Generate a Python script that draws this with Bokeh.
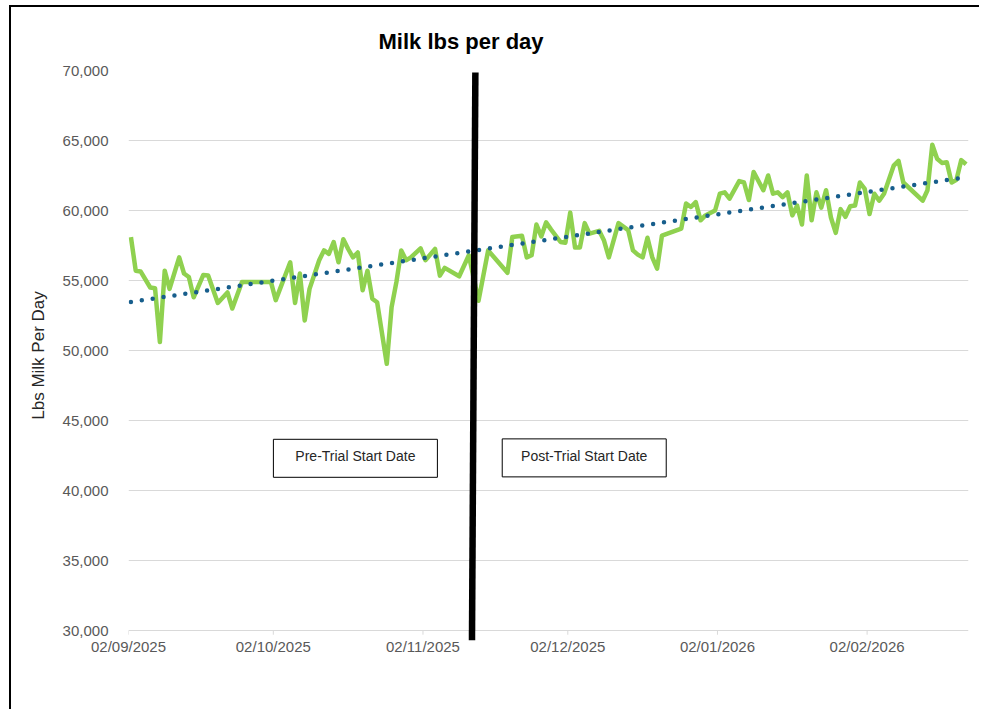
import numpy as np
import pandas as pd
from bokeh.plotting import figure
from bokeh.models import Range1d, DatetimeTickFormatter, FixedTicker, NumeralTickFormatter, ColumnDataSource
from bokeh.core.properties import value
from bokeh.embed import file_html
from bokeh.resources import INLINE

# ---------------- data ----------------
series_start = "2025-09-02"
axis_end = "2026-02-23"
day_number = [0, 1, 2, 4, 5, 6, 7, 8, 10, 11, 12, 13, 15, 16, 18, 20, 21, 23, 29, 30,
              33, 34, 35, 36, 37, 39, 40, 41, 42, 43, 44, 45, 46, 47, 48, 49, 50, 51, 53, 54,
              55, 56, 57, 58, 60, 61, 63, 64, 65, 68, 70, 72, 74, 78, 79, 81, 82, 83, 84, 85,
              86, 87, 89, 90, 91, 92, 93, 94, 95, 97, 98, 99, 101, 102, 103, 104, 105, 106, 107, 108,
              109, 110, 114, 115, 116, 117, 118, 119, 121, 122, 123, 124, 126, 127, 128, 129, 131, 132, 133, 134,
              135, 136, 137, 138, 139, 140, 141, 142, 143, 144, 145, 146, 147, 148, 149, 150, 151, 152, 153, 154,
              155, 156, 158, 159, 160, 164, 165, 166, 167, 168, 169, 170, 171, 172, 173]
milk_lbs = [58100, 55700, 55650, 54500, 54450, 50600, 55700, 54400, 56650, 55500, 55250, 53800, 55400, 55350, 53400, 54150, 53000, 54900, 54900, 53600,
            56300, 53400, 55500, 52150, 54400, 56450, 57150, 56900, 57750, 56300, 57950, 57250, 56650, 57000, 54300, 55700, 53700, 53450, 49050, 53100,
            54900, 57150, 56450, 56650, 57300, 56450, 57250, 55350, 55900, 55300, 56800, 53550, 57150, 55550, 58100, 58200, 56650, 56800, 59000, 58150,
            59150, 58650, 57750, 57700, 59850, 57350, 57350, 59100, 58350, 58550, 57850, 56650, 59100, 58850, 58600, 57150, 56850, 56650, 58050, 56650,
            55850, 58200, 58700, 60500, 60250, 60600, 59300, 59650, 60000, 61200, 61300, 60850, 62100, 62000, 60750, 62750, 61450, 62500, 61200, 61300,
            60950, 61300, 59650, 60350, 59000, 62500, 59300, 61300, 60200, 61450, 59500, 58400, 60100, 59550, 60300, 60350, 62000, 61550, 59750, 61200,
            60700, 61200, 63200, 63550, 62000, 60700, 61450, 64700, 63700, 63400, 63450, 62000, 62200, 63600, 63300]
tick_dates = ["2025-09-02", "2025-10-02", "2025-11-02", "2025-12-02", "2026-01-02", "2026-02-02"]
y_ticks = [30000, 35000, 40000, 45000, 50000, 55000, 60000, 65000, 70000]
trial_start_day = 71.5
title_text = "Milk lbs per day"
y_title = "Lbs Milk Per Day"
box_texts = ["Pre-Trial Start Date", "Post-Trial Start Date"]

# ---------------- derived ----------------
start = pd.Timestamp(series_start)
half_day = pd.Timedelta(hours=12)
dates = start + pd.to_timedelta(day_number, unit="D") + half_day   # points centred in their day
src = ColumnDataSource(dict(date=dates, milk=milk_lbs))

coef = np.polyfit(np.array(day_number, float), np.array(milk_lbs, float), 1)
trend_days = np.array([day_number[0], day_number[-1]], float)
trend_vals = np.polyval(coef, trend_days)
trend_dates = start + pd.to_timedelta(trend_days, unit="D") + half_day

FONT = "Liberation Sans"
Y_BOTTOM = 29286   # frame runs a little below the 30,000 axis so the trial bar can overhang it

p = figure(width=970, height=704, x_axis_type="datetime",
           x_range=Range1d(start, pd.Timestamp(axis_end)),
           y_range=Range1d(Y_BOTTOM, 70000),
           output_backend="svg", toolbar_location=None,
           min_border_left=117, min_border_right=13, min_border_top=63, min_border_bottom=71)
p.styles = {"border-top": "2px solid black", "border-left": "2px solid black",
            "margin-left": "9px", "margin-top": "5px"}
p.outline_line_color = None
p.background_fill_color = "white"
p.border_fill_color = "white"

# title
p.title.text = title_text
p.title.align = "left"
p.title.offset = 250
p.title.standoff = 34
p.title.text_font = FONT
p.title.text_font_size = "22px"
p.title.text_font_style = "bold"
p.title.text_color = "black"

# grid
p.xgrid.grid_line_color = None
p.ygrid.grid_line_color = "#D9D9D9"
p.ygrid.grid_line_width = 1

# y axis
p.yaxis.ticker = FixedTicker(ticks=y_ticks)
p.yaxis.formatter = NumeralTickFormatter(format="0,0")
p.yaxis.axis_line_color = None
p.yaxis.major_tick_line_color = None
p.yaxis.minor_tick_line_color = None
p.yaxis.major_tick_out = 0
p.yaxis.major_tick_in = 0
p.yaxis.major_label_standoff = 20
p.yaxis.major_label_text_font = FONT
p.yaxis.major_label_text_font_size = "15px"
p.yaxis.major_label_text_color = "#595959"
p.yaxis.axis_label = y_title
p.yaxis.axis_label_text_font = FONT
p.yaxis.axis_label_text_font_size = "17px"
p.yaxis.axis_label_text_font_style = "normal"
p.yaxis.axis_label_text_color = "#262626"
p.yaxis.axis_label_standoff = 12

# x axis (its visible line is the 30,000 gridline)
tick_ms = [pd.Timestamp(d).value // 10**6 for d in tick_dates]
p.xaxis.ticker = FixedTicker(ticks=tick_ms)
fmt = "%d/%m/%Y"
p.xaxis.formatter = DatetimeTickFormatter(days=fmt, months=fmt, years=fmt, hours=fmt,
                                          minutes=fmt, seconds=fmt, milliseconds=fmt, microseconds=fmt)
p.xaxis.axis_line_color = None
p.xaxis.major_tick_line_color = None
p.xaxis.minor_tick_line_color = None
p.xaxis.major_tick_out = 0
p.xaxis.major_tick_in = 0
p.xaxis.major_label_standoff = -3
p.xaxis.major_label_text_font = FONT
p.xaxis.major_label_text_font_size = "15px"
p.xaxis.major_label_text_color = "#595959"

# small tick marks hanging from the 30,000 axis line
tick_ts = [pd.Timestamp(d) for d in tick_dates]
p.segment(x0=tick_ts, y0=[y_ticks[0]] * len(tick_ts), x1=tick_ts, y1=[y_ticks[0] - 300] * len(tick_ts),
          line_color="#D9D9D9", line_width=1)

# series
p.line("date", "milk", source=src, line_color="#8FD14F", line_width=4.5, line_join="round")
p.line(trend_dates, trend_vals, line_color="#175E8C", line_width=4.5, line_dash="0 11", line_cap="round")

# trial start bar (slightly slanted, hand drawn)
bar_top = start + pd.Timedelta(days=trial_start_day + 0.35)
bar_bot = start + pd.Timedelta(days=trial_start_day - 0.35)
p.segment(x0=[bar_top], y0=[69860], x1=[bar_bot], y1=[Y_BOTTOM], line_color="black", line_width=6.5)

# text boxes
box_x = [start + pd.Timedelta(days=47.0), start + pd.Timedelta(days=94.4)]
box_y = [42300, 42330]
p.rect(x=box_x, y=box_y, width=164, height=38, width_units="screen", height_units="screen",
       fill_color="white", line_color="black", line_width=1)
p.text(x=box_x, y=[42480, 42500], text=box_texts, text_align="center", text_baseline="middle",
       text_font=value(FONT), text_font_size="14px", text_color="#262626")

open("out.html", "w").write(file_html(p, INLINE))
